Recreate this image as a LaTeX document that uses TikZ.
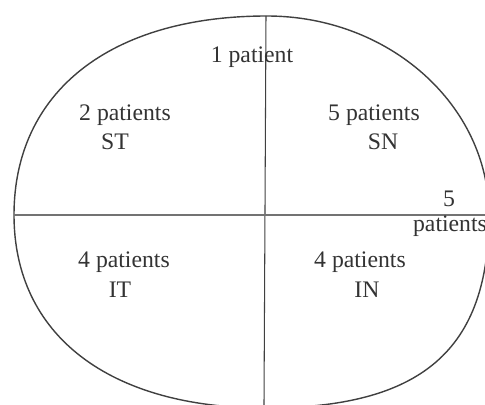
\documentclass[tikz,border=0pt]{standalone}
\usepackage{fontspec}
\setmainfont{Liberation Serif}
\begin{document}
\begin{tikzpicture}[
x=0.02cm, y=-0.02cm,
countnode/.style={anchor=base, inner sep=0pt, text=black!80, font=\fontsize{13.5}{16}\selectfont},
]
\useasboundingbox (0,0) rectangle (485,405);
\clip (0,0) rectangle (485,405);
% hand drawn oval
\draw[black!75, line width=0.8pt] (14,215) .. controls (14,92) and (110,16) .. (267,16)
  .. controls (389,16) and (489,105) .. (489,215)
  .. controls (489,350) and (422,408) .. (265,408)
  .. controls (109,408) and (14,335) .. (14,215) -- cycle;
\coordinate (top) at (266,16);
\coordinate (bottom) at (264,405);
\coordinate (left) at (14,215);
\coordinate (right) at (485,215);
\draw[black!75, line width=0.6pt] (top) -- (bottom);
\draw[black!55, line width=0.8pt] (left) -- (right);
\node[countnode] (one) at (252,63) {1 patient};
\node[countnode] (stcount) at (125,121) {2 patients};
\node[countnode] (st) at (115,150) {ST};
\node[countnode] (sncount) at (374,121) {5 patients};
\node[countnode] (sn) at (383,150) {SN};
\node[countnode] (five) at (449,207) {5};
\node[countnode] (fivelabel) at (450,232) {patients};
\node[countnode] (itcount) at (124,268) {4 patients};
\node[countnode] (it) at (120,298) {IT};
\node[countnode] (incount) at (360,268) {4 patients};
\node[countnode] (in) at (367,298) {IN};
\end{tikzpicture}
\end{document}
